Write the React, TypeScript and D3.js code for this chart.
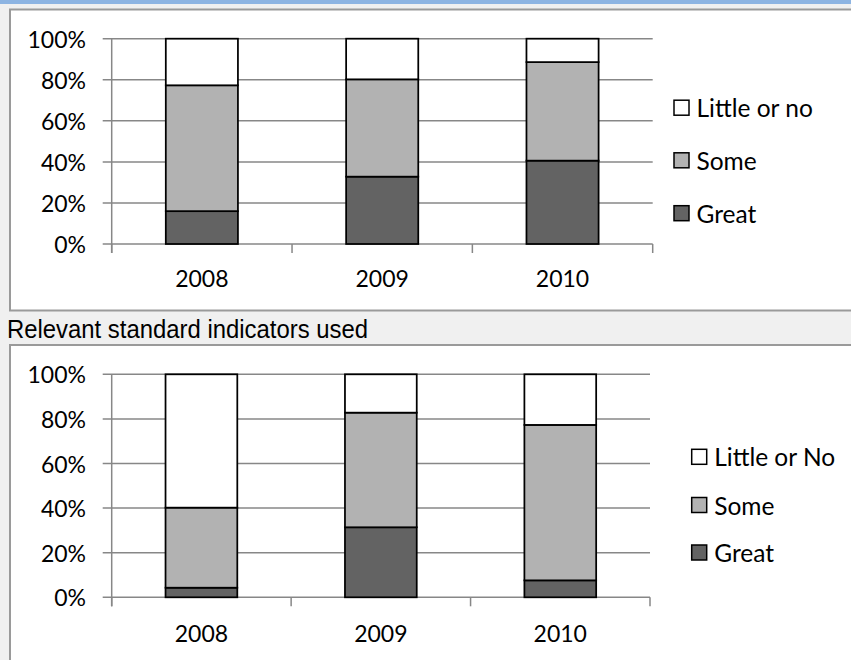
import React from "react";
import * as d3 from "d3";

const years = ["2008", "2009", "2010"];
const keys = ["great", "some", "little"];

const topGreat = [16.0, 32.8, 40.6];
const topSome = [61.3, 47.4, 48.0];
const topLittle = [22.7, 19.8, 11.4];

const botGreat = [4.3, 31.4, 7.6];
const botSome = [35.9, 51.4, 69.7];
const botLittle = [59.8, 17.2, 22.7];

const yTicks = [0, 20, 40, 60, 80, 100];
const yTickLabels = ["0%", "20%", "40%", "60%", "80%", "100%"];

const topLegend = ["Little or no", "Some", "Great"];
const botLegend = ["Little or No", "Some", "Great"];
const sectionTitle = "Relevant standard indicators used";

const colors: Record<string, string> = { great: "#636363", some: "#b2b2b2", little: "#ffffff" };
const legendKeys = ["little", "some", "great"];

const FONT = "Lato, 'Open Sans', sans-serif";

type Panel = {
  great: number[];
  some: number[];
  little: number[];
  legend: string[];
  x0: number;
  x1: number;
  y0: number;
  y100: number;
  labelY: number;
  legX: number;
  legY: number[];
};

const panels: Panel[] = [
  { great: topGreat, some: topSome, little: topLittle, legend: topLegend, x0: 111.7, x1: 652.7, y0: 244, y100: 38.7, labelY: 287, legX: 674, legY: [107.7, 160.3, 213.2] },
  { great: botGreat, some: botSome, little: botLittle, legend: botLegend, x0: 111.7, x1: 650, y0: 597.3, y100: 374.3, labelY: 641.7, legX: 691.7, legY: [456.8, 505, 552.5] },
];

function ChartPanel({ p }: { p: Panel }) {
  const rows = years.map((yr, i) => ({ year: yr, great: p.great[i], some: p.some[i], little: p.little[i] }));
  const series = d3.stack<any>().keys(keys)(rows);
  const x = d3.scaleBand<string>().domain(years).range([p.x0, p.x1]).paddingInner(0.6).paddingOuter(0.3);
  const y = d3.scaleLinear().domain([0, 100]).range([p.y0, p.y100]);
  const step = x.step();
  const grid = "#878787";
  return (
    <g>
      {yTicks.map((t, i) => (
        <g key={"g" + t}>
          <line x1={p.x0 - 9} x2={p.x1} y1={y(t)} y2={y(t)} stroke={grid} strokeWidth={1.5} />
          <text x={86} y={y(t)} dominantBaseline="central" textAnchor="end" fontFamily={FONT} fontSize={23} fill="#000">
            {yTickLabels[i]}
          </text>
        </g>
      ))}
      <line x1={p.x0} x2={p.x0} y1={p.y100} y2={p.y0 + 9} stroke={grid} strokeWidth={1.5} />
      {d3.range(years.length + 1).map((i) => (
        <line key={"t" + i} x1={p.x0 + i * step} x2={p.x0 + i * step} y1={p.y0} y2={p.y0 + 9} stroke={grid} strokeWidth={1.5} />
      ))}
      {series.map((s) =>
        s.map((d, i) => (
          <rect
            key={s.key + i}
            x={x(years[i])!}
            width={x.bandwidth()}
            y={y(d[1])}
            height={y(d[0]) - y(d[1])}
            fill={colors[s.key]}
            stroke="#000"
            strokeWidth={1.75}
          />
        ))
      )}
      {years.map((yr) => (
        <text key={"x" + yr} x={x(yr)! + x.bandwidth() / 2} y={p.labelY} textAnchor="middle" fontFamily={FONT} fontSize={23} fill="#000">
          {yr}
        </text>
      ))}
      {legendKeys.map((k, i) => (
        <g key={"l" + k}>
          <rect x={p.legX} y={p.legY[i] - 7.5} width={15} height={15} fill={colors[k]} stroke="#000" strokeWidth={1.5} />
          <text x={p.legX + 22.5} y={p.legY[i]} dominantBaseline="central" fontFamily={FONT} fontSize={24.5} fill="#000">
            {p.legend[i]}
          </text>
        </g>
      ))}
    </g>
  );
}

export default function App() {
  return (
    <div style={{ position: "absolute", left: 0, top: 0 }}>
      <svg width={851} height={660} style={{ display: "block" }}>
        <rect x={0} y={0} width={851} height={660} fill="#f0f0f0" />
        <rect x={0} y={0} width={851} height={4} fill="#8db4e2" />
        <rect x={10} y={9.5} width={860} height={301} fill="#fff" stroke="#9a9a9a" strokeWidth={2} />
        <rect x={10} y={345} width={860} height={340} fill="#fff" stroke="#9a9a9a" strokeWidth={2} />
        <text
          x={7}
          y={338}
          fontFamily="'Liberation Sans Narrow', 'Arial Narrow', 'Liberation Sans', sans-serif"
          fontSize={25}
          textLength={361}
          lengthAdjust="spacingAndGlyphs"
          fill="#000"
        >
          {sectionTitle}
        </text>
        {panels.map((p, i) => (
          <ChartPanel key={i} p={p} />
        ))}
      </svg>
    </div>
  );
}
